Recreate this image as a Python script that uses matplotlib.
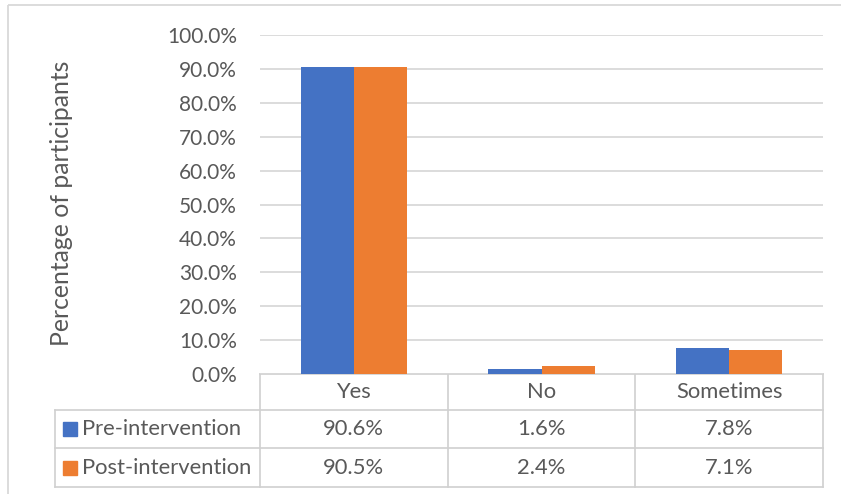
import numpy as np
import matplotlib.pyplot as plt
from matplotlib.patches import Rectangle

plt.rcParams['font.family'] = ['Lato', 'DejaVu Sans']

categories = ["Yes", "No", "Sometimes"]
series_names = ["Pre-intervention", "Post-intervention"]
pre_values = [90.6, 1.6, 7.8]
post_values = [90.5, 2.4, 7.1]
yticks = [0, 10, 20, 30, 40, 50, 60, 70, 80, 90, 100]

blue = "#4472C4"
orange = "#ED7D31"
text_col = "#595959"
grid_col = "#D9D9D9"
line_col = "#D0D0D0"

W, H = 841, 494
fig = plt.figure(figsize=(W / 100, H / 100), dpi=100)

# pixel-space overlay for the frame and the data table
over = fig.add_axes([0, 0, 1, 1])
over.set_xlim(0, W)
over.set_ylim(H, 0)
over.axis("off")

# plot area
x0, x1, y_top, y_bot = 260, 823, 35, 374
ax = fig.add_axes([x0 / W, (H - y_bot) / H, (x1 - x0) / W, (y_bot - y_top) / H])
ax.set_zorder(2)
ax.patch.set_alpha(0)

x = np.arange(len(categories))
bw = 0.283
ax.bar(x - bw / 2, pre_values, bw, color=blue, zorder=3)
ax.bar(x + bw / 2, post_values, bw, color=orange, zorder=3)

ax.set_xlim(-0.5, len(categories) - 0.5)
ax.set_ylim(0, 100)
ax.set_yticks(yticks)
ax.set_yticklabels([f"{v:.1f}%" for v in yticks], fontsize=15, color=text_col)
ax.tick_params(axis="y", length=0, pad=16.5)
ax.set_xticks([])
ax.yaxis.grid(True, color=grid_col, linewidth=1.3)
ax.set_axisbelow(True)
for s in ax.spines.values():
    s.set_visible(False)

fig.text(62 / W, 1 - 203 / H, "Percentage of participants", rotation=90,
         ha="center", va="center", fontsize=17.8, color=text_col)

# outer chart frame
over.add_patch(Rectangle((8.5, 5.5), W, H, fill=False, edgecolor=grid_col, linewidth=1.3))

# data table
col_edges = [ax.transData.transform((e, 0))[0] for e in np.arange(len(categories) + 1) - 0.5]
row_edges = [374, 410, 448, 487]
tbl_left = 55
lw = 1.2
over.plot([col_edges[0], col_edges[-1]], [row_edges[0], row_edges[0]], color=line_col, lw=lw)
for r in row_edges[1:]:
    over.plot([tbl_left, col_edges[-1]], [r, r], color=line_col, lw=lw)
for c in col_edges:
    over.plot([c, c], [row_edges[0], row_edges[-1]], color=line_col, lw=lw)
over.plot([tbl_left, tbl_left], [row_edges[1], row_edges[-1]], color=line_col, lw=lw)

for i, cat in enumerate(categories):
    cx = (col_edges[i] + col_edges[i + 1]) / 2
    over.text(cx, (row_edges[0] + row_edges[1]) / 2, cat, ha="center", va="center",
              fontsize=15.8, color=text_col)

for r, (name, vals, col) in enumerate(zip(series_names, [pre_values, post_values], [blue, orange])):
    cy = (row_edges[r + 1] + row_edges[r + 2]) / 2
    over.add_patch(Rectangle((63, cy - 7), 14, 14, color=col))
    over.text(82, cy, name, ha="left", va="center", fontsize=15.8, color=text_col)
    for i, v in enumerate(vals):
        cx = (col_edges[i] + col_edges[i + 1]) / 2
        over.text(cx, cy, f"{v:.1f}%", ha="center", va="center", fontsize=15.8, color=text_col)

fig.savefig("out.png", dpi=100)
